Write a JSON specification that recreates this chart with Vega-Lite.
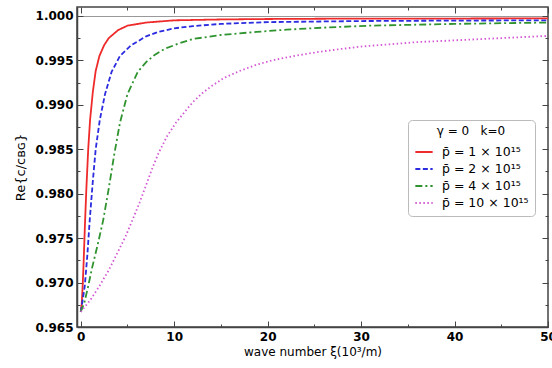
{
  "$schema": "https://vega.github.io/schema/vega-lite/v6.json",
  "width": 471,
  "height": 320,
  "autosize": {"type": "none"},
  "padding": {"left": 77, "top": 7, "right": 4, "bottom": 41},
  "background": "white",
  "config": {
    "font": "DejaVu Sans",
    "view": {"stroke": "#444", "strokeWidth": 1.5},
    "axis": {
      "domainColor": "#444",
      "domainWidth": 1.5,
      "tickColor": "#444",
      "tickWidth": 1,
      "labelColor": "black",
      "labelFont": "DejaVu Sans",
      "labelFontSize": 12,
      "labelFontWeight": "bold",
      "titleFont": "DejaVu Sans",
      "titleFontSize": 12,
      "titleFontWeight": "normal",
      "titleColor": "black"
    },
    "legend": {
      "orient": "none",
      "legendX": 331,
      "legendY": 113,
      "fillColor": "white",
      "strokeColor": "#bbb",
      "padding": 6,
      "cornerRadius": 4,
      "titleFont": "DejaVu Sans",
      "titleFontSize": 12,
      "titleFontWeight": "normal",
      "titleColor": "black",
      "titlePadding": 4,
      "labelFont": "DejaVu Sans",
      "labelFontSize": 12.5,
      "labelColor": "black",
      "labelOffset": 8,
      "symbolType": "stroke",
      "symbolStrokeWidth": 2,
      "symbolSize": 300,
      "rowPadding": 0
    }
  },
  "data": {
    "values": [
      {"p": 1, "x": 0, "y": 0.9667}, {"p": 1, "x": 0.1, "y": 0.9675}, {"p": 1, "x": 0.2, "y": 0.9695}, {"p": 1, "x": 0.3, "y": 0.972}, {"p": 1, "x": 0.45, "y": 0.9765}, {"p": 1, "x": 0.6, "y": 0.9805}, {"p": 1, "x": 0.8, "y": 0.985}, {"p": 1, "x": 1.0, "y": 0.9883}, {"p": 1, "x": 1.3, "y": 0.9915}, {"p": 1, "x": 1.6, "y": 0.9938}, {"p": 1, "x": 2.0, "y": 0.9955}, {"p": 1, "x": 2.5, "y": 0.9967}, {"p": 1, "x": 3.0, "y": 0.9975}, {"p": 1, "x": 4.0, "y": 0.9984}, {"p": 1, "x": 5.0, "y": 0.9989}, {"p": 1, "x": 7, "y": 0.99925}, {"p": 1, "x": 10, "y": 0.9995}, {"p": 1, "x": 15, "y": 0.9996}, {"p": 1, "x": 20, "y": 0.99965}, {"p": 1, "x": 30, "y": 0.9997}, {"p": 1, "x": 40, "y": 0.9997}, {"p": 1, "x": 50, "y": 0.99972},
      {"p": 2, "x": 0, "y": 0.9667}, {"p": 2, "x": 0.2, "y": 0.968}, {"p": 2, "x": 0.43, "y": 0.9696}, {"p": 2, "x": 0.7, "y": 0.973}, {"p": 2, "x": 0.96, "y": 0.977}, {"p": 2, "x": 1.3, "y": 0.9815}, {"p": 2, "x": 1.6, "y": 0.985}, {"p": 2, "x": 2.04, "y": 0.9883}, {"p": 2, "x": 2.6, "y": 0.9912}, {"p": 2, "x": 3.3, "y": 0.9937}, {"p": 2, "x": 4.2, "y": 0.9955}, {"p": 2, "x": 5.4, "y": 0.9967}, {"p": 2, "x": 7, "y": 0.9977}, {"p": 2, "x": 8.3, "y": 0.9982}, {"p": 2, "x": 10, "y": 0.9986}, {"p": 2, "x": 12, "y": 0.99885}, {"p": 2, "x": 15, "y": 0.9991}, {"p": 2, "x": 20, "y": 0.9993}, {"p": 2, "x": 30, "y": 0.99942}, {"p": 2, "x": 40, "y": 0.99947}, {"p": 2, "x": 50, "y": 0.9995},
      {"p": 4, "x": 0, "y": 0.9667}, {"p": 4, "x": 0.4, "y": 0.9678}, {"p": 4, "x": 0.8, "y": 0.9696}, {"p": 4, "x": 1.2, "y": 0.9716}, {"p": 4, "x": 1.8, "y": 0.9742}, {"p": 4, "x": 2.4, "y": 0.977}, {"p": 4, "x": 3.0, "y": 0.9806}, {"p": 4, "x": 3.6, "y": 0.9845}, {"p": 4, "x": 4.2, "y": 0.988}, {"p": 4, "x": 5.0, "y": 0.9912}, {"p": 4, "x": 6.1, "y": 0.9937}, {"p": 4, "x": 7, "y": 0.9948}, {"p": 4, "x": 7.9, "y": 0.9956}, {"p": 4, "x": 9, "y": 0.9963}, {"p": 4, "x": 10.5, "y": 0.9969}, {"p": 4, "x": 12, "y": 0.9974}, {"p": 4, "x": 15, "y": 0.99785}, {"p": 4, "x": 18.8, "y": 0.9982}, {"p": 4, "x": 22, "y": 0.99845}, {"p": 4, "x": 26, "y": 0.99868}, {"p": 4, "x": 31, "y": 0.9989}, {"p": 4, "x": 40, "y": 0.9991}, {"p": 4, "x": 50, "y": 0.99925},
      {"p": 10, "x": 0, "y": 0.9667}, {"p": 10, "x": 1, "y": 0.968}, {"p": 10, "x": 2, "y": 0.9696}, {"p": 10, "x": 3, "y": 0.9714}, {"p": 10, "x": 4, "y": 0.9735}, {"p": 10, "x": 4.8, "y": 0.9752}, {"p": 10, "x": 5.6, "y": 0.9772}, {"p": 10, "x": 6.3, "y": 0.979}, {"p": 10, "x": 6.9, "y": 0.9807}, {"p": 10, "x": 7.6, "y": 0.9827}, {"p": 10, "x": 8.3, "y": 0.9845}, {"p": 10, "x": 9.2, "y": 0.9864}, {"p": 10, "x": 10.2, "y": 0.988}, {"p": 10, "x": 11.2, "y": 0.9893}, {"p": 10, "x": 12, "y": 0.9903}, {"p": 10, "x": 13, "y": 0.9913}, {"p": 10, "x": 14, "y": 0.9921}, {"p": 10, "x": 15.3, "y": 0.993}, {"p": 10, "x": 17, "y": 0.9938}, {"p": 10, "x": 18.8, "y": 0.9945}, {"p": 10, "x": 20.5, "y": 0.995}, {"p": 10, "x": 22.4, "y": 0.9954}, {"p": 10, "x": 24, "y": 0.9957}, {"p": 10, "x": 26, "y": 0.99603}, {"p": 10, "x": 28, "y": 0.9963}, {"p": 10, "x": 30, "y": 0.99655}, {"p": 10, "x": 33, "y": 0.9968}, {"p": 10, "x": 36, "y": 0.99705}, {"p": 10, "x": 40, "y": 0.99725}, {"p": 10, "x": 45, "y": 0.9975}, {"p": 10, "x": 50, "y": 0.99775}
    ]
  },
  "layer": [
    {
      "mark": {"type": "line", "strokeWidth": 1.8, "clip": true},
      "encoding": {
        "x": {
          "field": "x", "type": "quantitative",
          "scale": {"domain": [-0.4, 50], "nice": false, "zero": false},
          "axis": {
            "orient": "bottom",
            "title": "wave number \u03be(10\u00b3/m)",
            "values": [0, 5, 10, 15, 20, 25, 30, 35, 40, 45, 50],
            "labelExpr": "datum.value % 10 === 0 ? datum.label : ''",
            "tickSize": {"condition": {"test": "datum.value % 10 === 0", "value": -6}, "value": -3},
            "labelPadding": 10,
            "labelFlush": false,
            "titlePadding": 4,
            "grid": false
          }
        },
        "y": {
          "field": "y", "type": "quantitative",
          "scale": {"domain": [0.965, 1.001], "nice": false, "zero": false},
          "axis": {
            "orient": "left",
            "title": "Re{c/c\u0299\u0262}",
            "titleFontSize": 13,
            "values": [0.965, 0.9675, 0.97, 0.9725, 0.975, 0.9775, 0.98, 0.9825, 0.985, 0.9875, 0.99, 0.9925, 0.995, 0.9975, 1.0],
            "labelExpr": "round(datum.value*10000) % 50 === 0 ? format(datum.value, '.3f') : ''",
            "tickSize": {"condition": {"test": "round(datum.value*10000) % 50 === 0", "value": -6}, "value": -3},
            "labelPadding": 10,
            "labelFlush": false,
            "titlePadding": 8,
            "grid": true,
            "gridColor": "#999",
            "gridWidth": 1,
            "gridOpacity": {"condition": {"test": "round(datum.value*10000) === 10000", "value": 1}, "value": 0}
          }
        },
        "color": {
          "field": "p", "type": "nominal",
          "scale": {"domain": [1, 2, 4, 10], "range": ["#ee2a2a", "#2b2be0", "#2f932f", "#d458d4"]},
          "legend": {
            "title": "\u03b3\u00a0=\u00a00\u00a0\u00a0\u00a0k=0",
            "titleAnchor": "middle",
            "labelExpr": "'p\u0304 = ' + datum.label + ' \u00d7 10\u00b9\u2075'"
          }
        },
        "strokeDash": {
          "field": "p", "type": "nominal",
          "scale": {"domain": [1, 2, 4, 10], "range": [[1, 0], [5, 2.5], [7, 3, 2, 3], [1.5, 2.5]]},
          "legend": {
            "title": "\u03b3\u00a0=\u00a00\u00a0\u00a0\u00a0k=0",
            "titleAnchor": "middle",
            "labelExpr": "'p\u0304 = ' + datum.label + ' \u00d7 10\u00b9\u2075'"
          }
        }
      }
    },
    {
      "mark": {"type": "line", "opacity": 0},
      "encoding": {
        "x": {
          "field": "x", "type": "quantitative",
          "axis": {
            "orient": "top", "title": null, "labels": false, "domain": false,
            "values": [0, 5, 10, 15, 20, 25, 30, 35, 40, 45, 50],
            "tickSize": {"condition": {"test": "datum.value % 10 === 0", "value": -6}, "value": -3},
            "grid": false
          }
        },
        "y": {
          "field": "y", "type": "quantitative",
          "axis": {
            "orient": "right", "title": null, "labels": false, "domain": false,
            "values": [0.965, 0.9675, 0.97, 0.9725, 0.975, 0.9775, 0.98, 0.9825, 0.985, 0.9875, 0.99, 0.9925, 0.995, 0.9975, 1.0],
            "tickSize": {"condition": {"test": "round(datum.value*10000) % 50 === 0", "value": -6}, "value": -3},
            "grid": false
          }
        },
        "detail": {"field": "p", "type": "nominal"}
      }
    }
  ],
  "resolve": {"axis": {"x": "independent", "y": "independent"}}
}
